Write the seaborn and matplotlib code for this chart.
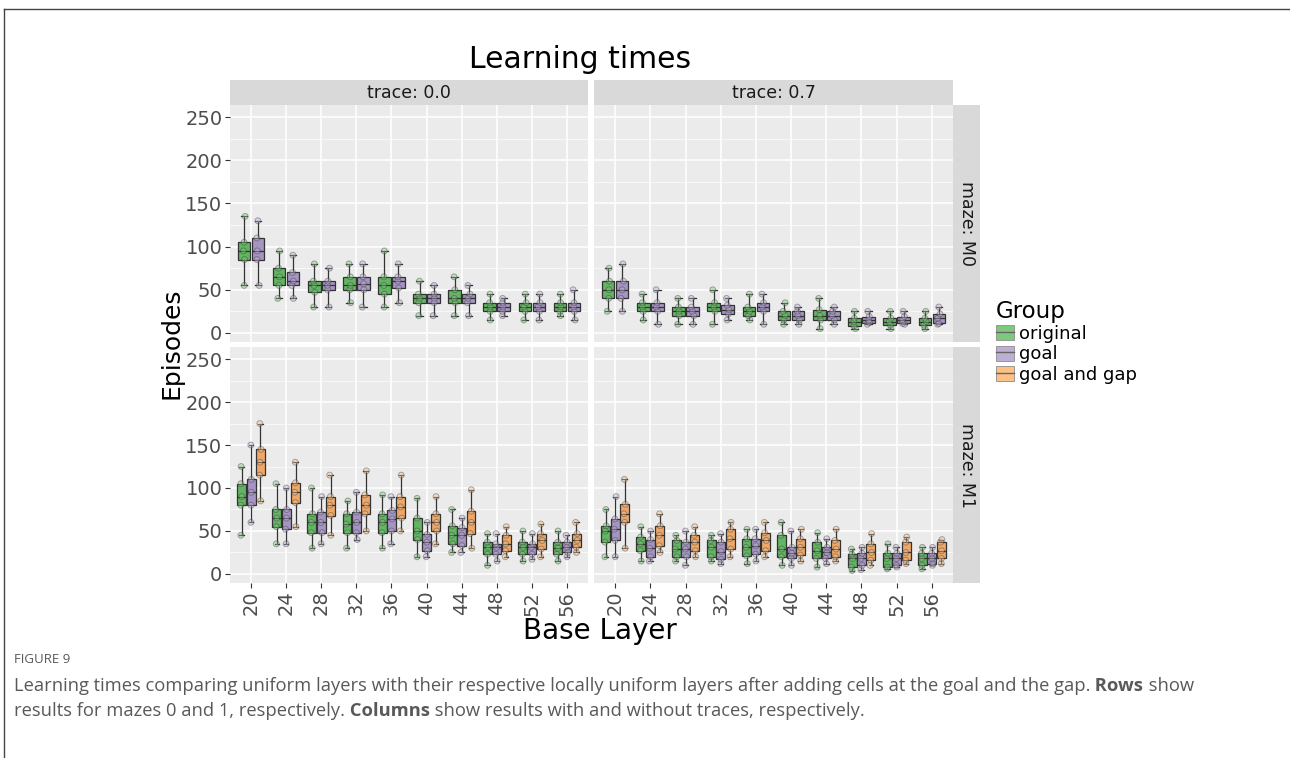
import numpy as np
import pandas as pd
import matplotlib
matplotlib.use('Agg')
import matplotlib.pyplot as plt
import seaborn as sns
from matplotlib.patches import Patch
from matplotlib.lines import Line2D

# base layers on the x axis
layers = [20, 24, 28, 32, 36, 40, 44, 48, 52, 56]
groups = ['original', 'goal', 'goal and gap']

# five-number summaries per base layer: (min, q1, median, q3, max)
m0_t00_original = [(55, 85, 95, 105, 135), (40, 55, 65, 75, 95), (30, 47, 55, 60, 80), (35, 50, 55, 65, 80),
                   (30, 45, 55, 65, 95), (20, 35, 40, 45, 60), (20, 35, 40, 50, 65), (15, 25, 30, 35, 45),
                   (15, 25, 30, 35, 45), (20, 25, 30, 35, 45)]
m0_t00_goal = [(55, 85, 95, 110, 130), (40, 55, 60, 70, 90), (30, 50, 55, 60, 75), (30, 50, 57, 65, 80),
               (35, 52, 60, 65, 80), (20, 35, 40, 45, 55), (20, 35, 40, 45, 55), (20, 25, 30, 35, 40),
               (15, 25, 30, 35, 45), (15, 25, 30, 35, 50)]
m0_t07_original = [(25, 40, 50, 60, 75), (15, 25, 30, 35, 45), (10, 20, 25, 30, 40), (10, 25, 30, 35, 50),
                   (15, 20, 25, 30, 45), (10, 15, 20, 25, 35), (5, 15, 20, 27, 40), (5, 8, 13, 17, 25),
                   (5, 9, 13, 17, 25), (5, 9, 13, 17, 25)]
m0_t07_goal = [(25, 40, 50, 60, 80), (10, 25, 30, 35, 50), (10, 20, 25, 30, 40), (15, 22, 27, 32, 40),
               (10, 25, 30, 35, 45), (10, 15, 20, 25, 30), (10, 15, 20, 25, 30), (10, 12, 15, 19, 25),
               (10, 11, 15, 19, 25), (10, 11, 17, 22, 30)]
m1_t00_original = [(45, 80, 90, 105, 125), (35, 55, 65, 75, 105), (30, 48, 60, 70, 100), (30, 48, 58, 70, 85),
                   (30, 48, 60, 70, 92), (20, 40, 50, 65, 88), (25, 35, 45, 56, 75), (10, 23, 31, 37, 47),
                   (15, 23, 31, 37, 50), (15, 23, 30, 37, 50)]
m1_t00_goal = [(60, 80, 95, 110, 150), (35, 52, 65, 75, 100), (35, 48, 60, 72, 90), (40, 48, 60, 72, 95),
               (35, 50, 64, 74, 90), (20, 27, 37, 46, 60), (25, 33, 45, 54, 65), (15, 23, 31, 35, 47),
               (17, 23, 31, 35, 47), (20, 25, 31, 37, 45)]
m1_t00_gap = [(85, 115, 130, 145, 175), (55, 83, 95, 106, 130), (45, 68, 80, 90, 115), (50, 70, 80, 92, 120),
              (50, 65, 78, 90, 115), (35, 50, 60, 70, 90), (30, 47, 60, 73, 98), (20, 27, 35, 45, 55),
              (20, 29, 39, 47, 58), (25, 31, 39, 47, 60)]
m1_t07_original = [(20, 37, 50, 56, 75), (15, 27, 35, 43, 55), (15, 20, 29, 39, 45), (15, 20, 31, 39, 45),
                   (12, 21, 31, 41, 52), (10, 20, 29, 45, 60), (8, 18, 27, 37, 48), (4, 8, 18, 23, 29),
                   (6, 8, 18, 24, 35), (6, 10, 18, 24, 31)]
m1_t07_goal = [(20, 39, 52, 64, 90), (15, 20, 30, 40, 50), (10, 20, 29, 37, 50), (12, 17, 26, 37, 47),
               (15, 23, 33, 41, 52), (10, 18, 24, 31, 50), (12, 18, 25, 31, 41), (5, 10, 18, 24, 31),
               (8, 10, 18, 24, 31), (10, 12, 18, 24, 31)]
m1_t07_gap = [(30, 60, 70, 81, 110), (25, 33, 45, 56, 70), (20, 27, 37, 45, 55), (20, 29, 41, 52, 60),
              (20, 27, 39, 48, 60), (15, 22, 31, 41, 52), (15, 20, 29, 39, 52), (10, 16, 25, 35, 47),
              (12, 16, 25, 37, 43), (12, 18, 27, 37, 40)]

panels = {
    ('M0', '0.0'): {'original': m0_t00_original, 'goal': m0_t00_goal},
    ('M0', '0.7'): {'original': m0_t07_original, 'goal': m0_t07_goal},
    ('M1', '0.0'): {'original': m1_t00_original, 'goal': m1_t00_goal, 'goal and gap': m1_t00_gap},
    ('M1', '0.7'): {'original': m1_t07_original, 'goal': m1_t07_goal, 'goal and gap': m1_t07_gap},
}

# long table for seaborn
rows = []
for (maze, trace), grp in panels.items():
    for g, stats in grp.items():
        for layer, five in zip(layers, stats):
            for v in five:
                rows.append(dict(maze=maze, trace=trace, group=g, layer=str(layer), episodes=v))
df = pd.DataFrame(rows)

point_colors = {'original': '#7FC97F', 'goal': '#BEAED4', 'goal and gap': '#FDC086'}
box_colors = {'original': '#62b562', 'goal': '#a594c4', 'goal and gap': '#eea869'}

plt.rcParams['font.family'] = ['DejaVu Sans']
np.random.seed(3)

W, H = 1290, 758
fig = plt.figure(figsize=(W / 100, H / 100), dpi=100)


def px(x0, y0, x1, y1):
    return [x0 / W, 1 - y1 / H, (x1 - x0) / W, (y1 - y0) / H]


col_x = {'0.0': (230, 588), '0.7': (594, 953)}
row_y = {'M0': (105, 342), 'M1': (347, 583)}
order = [str(l) for l in layers]

for (maze, trace), grp in panels.items():
    x0, x1 = col_x[trace]
    y0, y1 = row_y[maze]
    ax = fig.add_axes(px(x0, y0, x1, y1))
    ax.set_facecolor('#ebebeb')
    sub = df[(df.maze == maze) & (df.trace == trace)]
    hue_order = [g for g in groups if g in grp]
    sns.boxplot(data=sub, x='layer', y='episodes', hue='group', order=order, hue_order=hue_order,
                palette=box_colors, saturation=1, whis=(0, 100), showfliers=False, width=0.8,
                gap=0.1 if len(hue_order) == 2 else 0.05, linecolor='#333333', linewidth=0.9,
                legend=False, ax=ax)
    sns.stripplot(data=sub, x='layer', y='episodes', hue='group', order=order, hue_order=hue_order,
                  palette=point_colors, dodge=True, jitter=0.08, size=4.2, linewidth=0.7,
                  edgecolor='#333333', alpha=0.4, legend=False, ax=ax)
    ax.set_xlim(-0.6, 9.6)
    ax.set_ylim(-10.5, 264)
    ax.set_yticks([0, 50, 100, 150, 200, 250])
    ax.set_yticks([25, 75, 125, 175, 225], minor=True)
    ax.grid(which='major', color='white', lw=1.1)
    ax.grid(which='minor', axis='y', color='white', lw=0.5)
    ax.set_axisbelow(True)
    for s in ax.spines.values():
        s.set_visible(False)
    ax.set_xlabel('')
    ax.set_ylabel('')
    ax.tick_params(which='major', length=3.5, width=0.8, color='#333333', labelcolor='#4d4d4d',
                   labelsize=14, pad=2)
    ax.tick_params(which='minor', length=0)
    if trace == '0.7':
        ax.tick_params(axis='y', length=0, labelleft=False)
    if maze == 'M0':
        ax.tick_params(axis='x', length=0, labelbottom=False)
    else:
        ax.tick_params(axis='x', labelrotation=90)

    # facet strips
    if maze == 'M0':
        st = fig.add_axes(px(x0, 80, x1, 105))
        st.set_facecolor('#d9d9d9')
        st.set_xticks([]); st.set_yticks([])
        for s in st.spines.values():
            s.set_visible(False)
        st.text(0.5, 0.5, f'trace: {trace}', ha='center', va='center', fontsize=12.5, color='#1a1a1a')
    if trace == '0.7':
        st = fig.add_axes(px(953, y0, 980, y1))
        st.set_facecolor('#d9d9d9')
        st.set_xticks([]); st.set_yticks([])
        for s in st.spines.values():
            s.set_visible(False)
        st.text(0.5, 0.5, f'maze: {maze}', ha='center', va='center', rotation=270, fontsize=12.5,
                color='#1a1a1a')

fig.text(580 / W, 1 - 60 / H, 'Learning times', ha='center', va='center', fontsize=21.5)
fig.text(172 / W, 1 - 343 / H, 'Episodes', ha='center', va='center', rotation=90, fontsize=18)
fig.text(600 / W, 1 - 631 / H, 'Base Layer', ha='center', va='center', fontsize=20)

handles = [(Patch(facecolor=point_colors[g], edgecolor='#8c8c8c', lw=0.6),
            Line2D([], [], color='#666666', lw=1.0)) for g in groups]
fig.legend(handles, groups, title='Group', loc='upper left', bbox_to_anchor=(996 / W, 1 - 300 / H),
           frameon=False, fontsize=13, title_fontsize=16.5, handlelength=1.0, handleheight=0.9,
           handletextpad=0.25, labelspacing=0.12, borderpad=0, borderaxespad=0, alignment='left')

# page frame and caption
bg = fig.add_axes([0, 0, 1, 1], zorder=-1)
bg.set_xlim(0, W); bg.set_ylim(H, 0)
bg.axis('off')
bg.plot([4, W], [9, 9], color='#444444', lw=1)
bg.plot([4, 4], [9, H], color='#444444', lw=1)

cap = dict(family=['Open Sans', 'DejaVu Sans'], color='#595959', fontsize=13.2, va='bottom')
bg.text(14, 666, 'FIGURE 9', family=['Open Sans', 'DejaVu Sans'], color='#595959', fontsize=9.5,
        va='bottom')


def rich_line(x, y, parts):
    t = bg.text(x, y, parts[0][0], fontweight=parts[0][1], **cap)
    for s, w in parts[1:]:
        t = bg.annotate(s, xy=(1, 0), xycoords=t, fontweight=w, ha='left', **cap)


rich_line(14, 695, [('Learning times comparing uniform layers with their respective locally uniform layers '
                     'after adding cells at the goal and the gap.', 'normal'), (' Rows', 'bold'),
                    (' show', 'normal')])
rich_line(14, 720, [('results for mazes 0 and 1, respectively.', 'normal'), (' Columns', 'bold'),
                    (' show results with and without traces, respectively.', 'normal')])

fig.savefig('out.png', dpi=100)
